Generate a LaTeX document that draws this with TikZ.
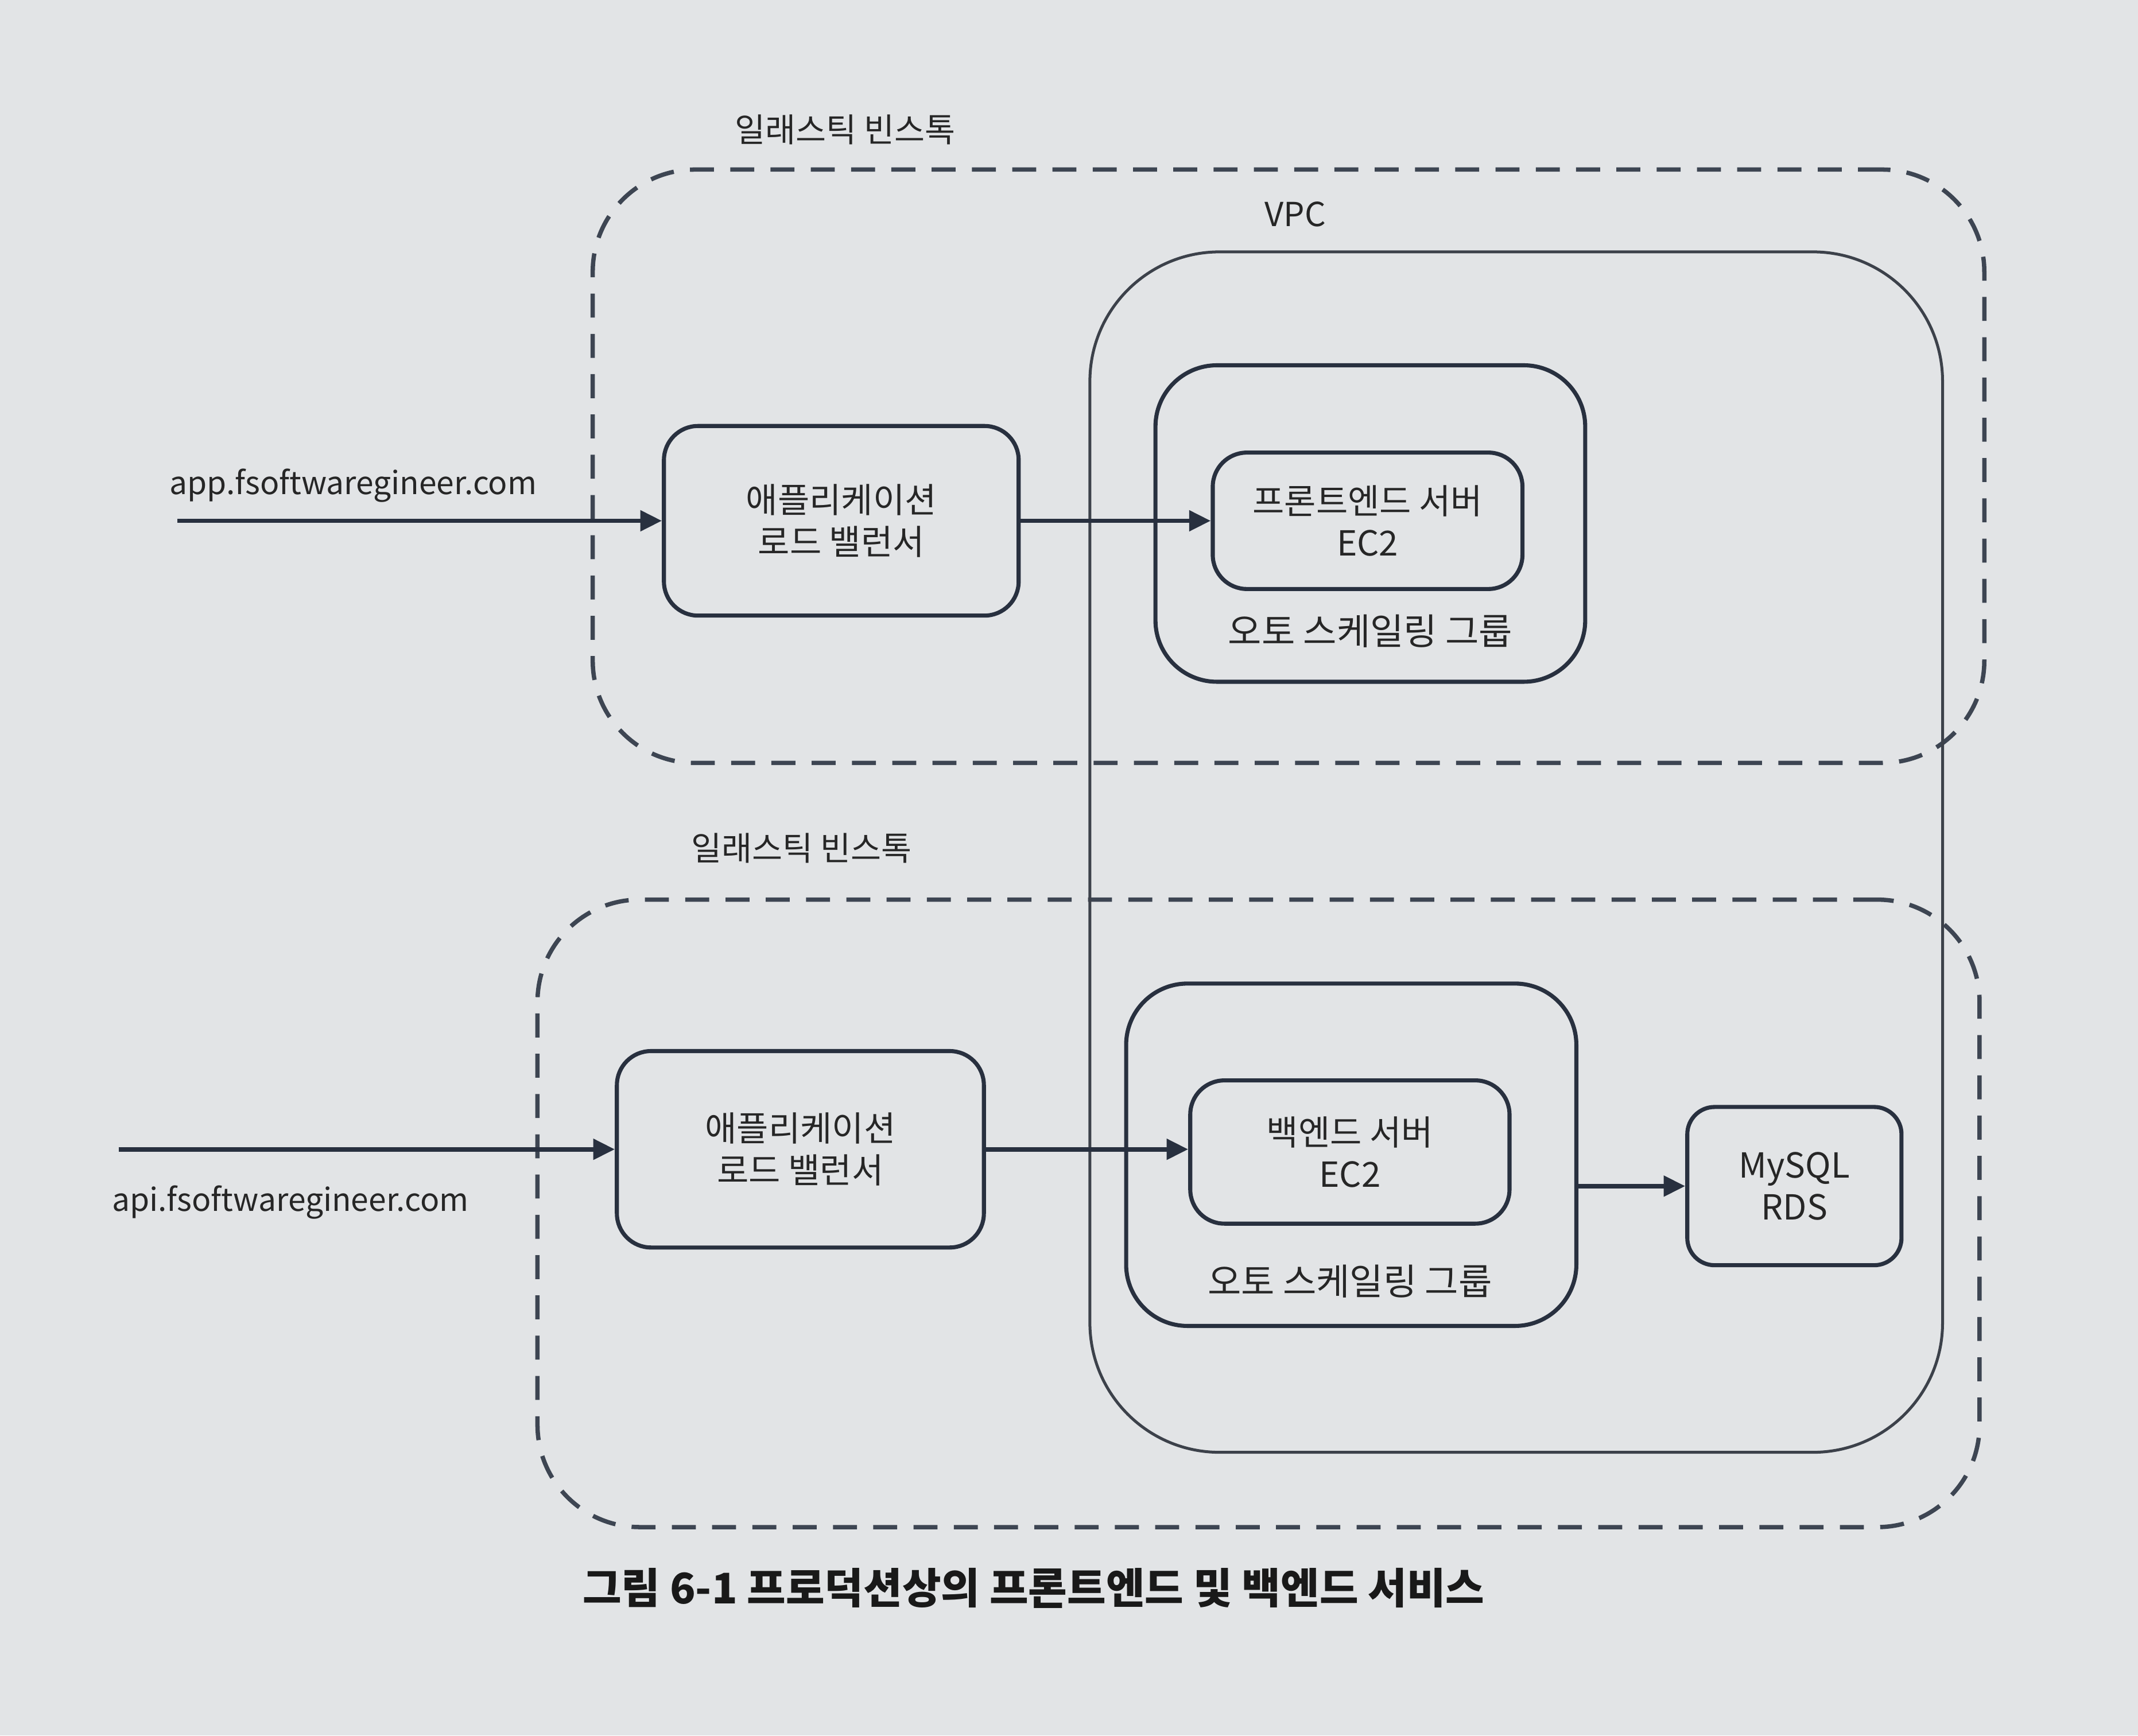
\documentclass[tikz,border=0pt]{standalone}
\usepackage{fontspec}
\setmainfont{Noto Sans CJK KR}
\usetikzlibrary{arrows.meta}
\definecolor{bgc}{HTML}{E2E4E6}
\definecolor{ink}{HTML}{28303F}
\definecolor{vpcc}{HTML}{3C414A}
\tikzset{
  box/.style={draw=ink, line width=0.85pt, rounded corners=0.25cm, inner sep=0pt, align=center, font=\fontsize{7.2pt}{8.8pt}\selectfont, text=black!85},
  grp/.style={draw=ink, line width=0.85pt, rounded corners=0.45cm, inner sep=0pt},
  ebox/.style={draw=ink!90, line width=0.9pt, dash pattern=on 5pt off 3.4pt, rounded corners=0.75cm, inner sep=0pt},
  vpcbox/.style={draw=vpcc, line width=0.6pt, rounded corners=0.95cm, inner sep=0pt},
  lbl/.style={font=\fontsize{6.9pt}{8pt}\selectfont, text=black!85, inner sep=0pt},
  conn/.style={draw=ink, line width=0.95pt, -{Triangle[length=4.5pt,width=4.2pt]}}
}
\begin{document}
\begin{tikzpicture}[x=0.01cm, y=-0.01cm]
\fill[bgc] (0,0) rectangle (1568,1273);
\useasboundingbox (0,0) rectangle (1568,1273);
% containers
\node[ebox, minimum width=10.2cm, minimum height=4.35cm] (eb1) at (945,342) {};
\node[ebox, minimum width=10.57cm, minimum height=4.6cm] (eb2) at (923,890) {};
\node[vpcbox, minimum width=6.25cm, minimum height=8.8cm] (vpc) at (1112,625) {};
\node[grp, minimum width=3.15cm, minimum height=2.32cm] (asg1) at (1005,384) {};
\node[grp, minimum width=3.3cm, minimum height=2.51cm] (asg2) at (991,847) {};
% boxes
\node[box, minimum width=2.6cm, minimum height=1.39cm] (lb1) at (617,382) {애플리케이션\\로드 밸런서};
\node[box, minimum width=2.27cm, minimum height=1.0cm] (fe) at (1003,382) {프론트엔드 서버\\EC2};
\node[box, minimum width=2.69cm, minimum height=1.44cm] (lb2) at (587,843) {애플리케이션\\로드 밸런서};
\node[box, minimum width=2.34cm, minimum height=1.05cm] (be) at (990,845) {백엔드 서버\\EC2};
\node[box, minimum width=1.57cm, minimum height=1.16cm, rounded corners=0.2cm] (rds) at (1316,870) {MySQL\\RDS};
% labels
\node[lbl] (eb1l) at (620,95) {일래스틱 빈스톡};
\node[lbl] (eb2l) at (588,622) {일래스틱 빈스톡};
\node[lbl] (vpcl) at (950,157) {VPC};
\node[lbl, font=\fontsize{7.6pt}{8pt}\selectfont] (asg1l) at (1005,463) {오토 스케일링 그룹};
\node[lbl, font=\fontsize{7.6pt}{8pt}\selectfont] (asg2l) at (990,940) {오토 스케일링 그룹};
\node[lbl, font=\fontsize{6.6pt}{8pt}\selectfont] (appl) at (259,356) {app.fsoftwaregineer.com};
\node[lbl, font=\fontsize{6.6pt}{8pt}\selectfont] (apil) at (213,882) {api.fsoftwaregineer.com};
\node[font=\fontsize{8.8pt}{10pt}\selectfont\bfseries, text=black!90, inner sep=0pt] (cap) at (758,1165) {그림 6-1 프로덕션상의 프론트엔드 및 백엔드 서비스};
% connectors
\coordinate (appin) at (130,382);
\coordinate (apiin) at (87,843);
\draw[conn] (appin) -- (lb1.west);
\draw[conn] (lb1.east) -- (fe.west);
\draw[conn] (apiin) -- (lb2.west);
\draw[conn] (lb2.east) -- (lb2.east -| be.west);
\draw[conn] (asg2.east |- rds.west) -- (rds.west);
\end{tikzpicture}
\end{document}
